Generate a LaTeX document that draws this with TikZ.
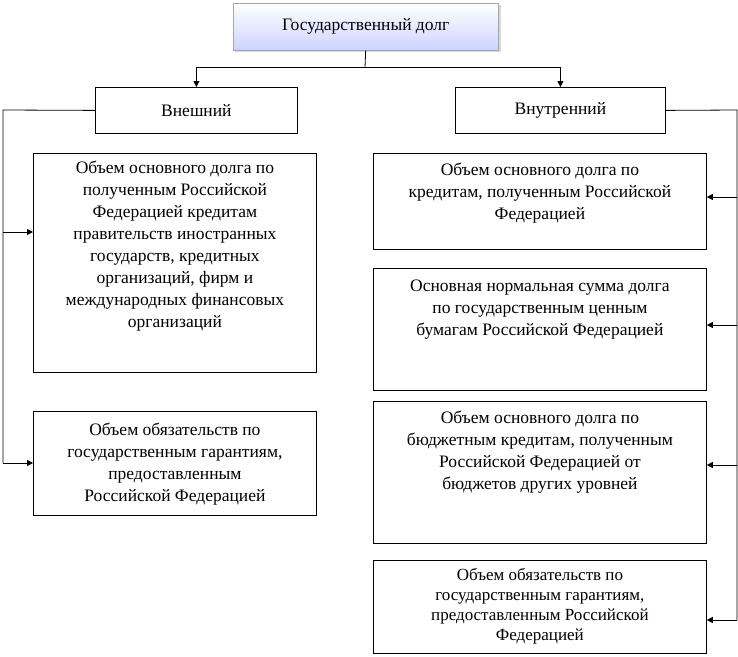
\documentclass[tikz,border=0pt]{standalone}
\usepackage{fontspec}
\setmainfont{Liberation Serif}
\usetikzlibrary{arrows.meta,shadows}
\begin{document}
\begin{tikzpicture}[x=1pt,y=-1pt,
  box/.style={draw,thick,anchor=north west,align=center,inner sep=0pt,font=\fontsize{17.5}{22}\selectfont},
  txt/.style={anchor=north,align=center,font=\fontsize{17.5}{22}\selectfont},
  arr/.style={-{Triangle[length=6pt,width=6pt]},thick}]
\useasboundingbox (0,0) rectangle (738,656);
\node[draw,anchor=north west,minimum width=265pt,minimum height=47pt,top color=white,bottom color=cyan!15!blue!20,draw=gray!70,drop shadow={opacity=0.3},font=\fontsize{17.5}{20}\selectfont] (top) at (233,3) {Государственный долг};
\node[box,minimum width=202pt,minimum height=46pt] (ext) at (95,87) {Внешний};
\node[box,minimum width=210pt,minimum height=46pt] (int) at (455,87) {Внутренний};
\node[box,minimum width=283pt,minimum height=219pt] (l1) at (33,153) {};
\node[txt] at (l1.north) [yshift=-4pt] {Объем основного долга по\\полученным Российской\\Федерацией кредитам\\правительств иностранных\\государств, кредитных\\организаций, фирм и\\международных финансовых\\организаций};
\node[box,minimum width=283pt,minimum height=104pt] (l2) at (33,411) {};
\node[txt] at (l2.north) [yshift=-8pt] {Объем обязательств по\\государственным гарантиям,\\предоставленным\\Российской Федерацией};
\node[box,minimum width=333pt,minimum height=96pt] (r1) at (373,153) {};
\node[txt] at (r1.north) [yshift=-6pt] {Объем основного долга по\\кредитам, полученным Российской\\Федерацией};
\node[box,minimum width=333pt,minimum height=122pt] (r2) at (373,268) {};
\node[txt] at (r2.north) [yshift=-8pt] {Основная нормальная сумма долга\\по государственным ценным\\бумагам Российской Федерацией};
\node[box,minimum width=333pt,minimum height=142pt] (r3) at (373,401) {};
\node[txt] at (r3.north) [yshift=-6pt] {Объем основного долга по\\бюджетным кредитам, полученным\\Российской Федерацией от\\бюджетов других уровней};
\node[box,minimum width=333pt,minimum height=93pt] (r4) at (373,560) {};
\node[txt,font=\fontsize{17}{20}\selectfont] at (r4.north) [yshift=-5pt] {Объем обязательств по\\государственным гарантиям,\\предоставленным Российской\\Федерацией};
\coordinate (j) at (365,67);
\draw[thick] (top.south) -- (j);
\draw[arr] (j) -| (ext.north);
\draw[arr] (j) -| (int.north);
\coordinate (lt) at (3,110);
\draw[thick,line join=miter] (ext.west) -- (lt) -- (3,463);
\draw[arr] (3,232) -- (3,232 -| l1.west);
\draw[arr] (3,463) -- (3,463 -| l2.west);
\coordinate (rt) at (737,110);
\draw[thick,line join=miter] (int.east) -- (rt) -- (737,620);
\draw[arr] (737,197) -- (737,197 -| r1.east);
\draw[arr] (737,325) -- (737,325 -| r2.east);
\draw[arr] (737,465) -- (737,465 -| r3.east);
\draw[arr] (737,620) -- (737,620 -| r4.east);
\end{tikzpicture}
\end{document}
